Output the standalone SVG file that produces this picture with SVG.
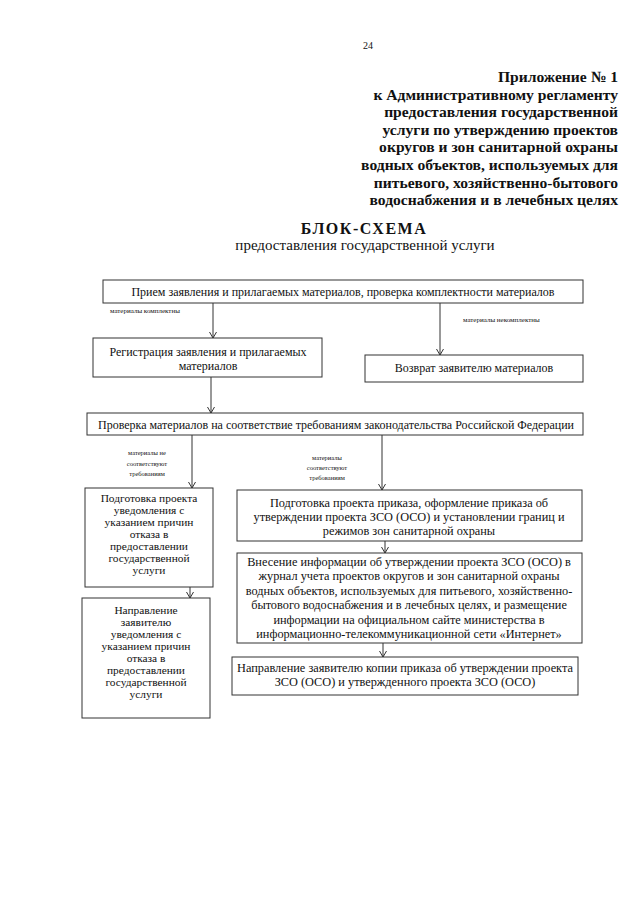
<svg xmlns="http://www.w3.org/2000/svg" width="640" height="905" viewBox="0 0 640 905">
<style>
text{font-family:"Liberation Serif","Times New Roman",serif;fill:#111}
.hdr{font-size:15.6px;font-weight:bold;text-anchor:end}
.box{fill:#fff;stroke:#333;stroke-width:1}
.t13{font-size:12px;text-anchor:middle}
.t12{font-size:12.3px;text-anchor:middle}
.t11{font-size:11.4px;text-anchor:middle}
.lbl{font-size:7px}
.lblc{font-size:6.5px;text-anchor:middle}
.con{stroke:#333;stroke-width:1;fill:none;marker-end:url(#ah)}
</style>
<defs>
<marker id="ah" markerWidth="10" markerHeight="10" refX="8" refY="4" orient="auto" markerUnits="userSpaceOnUse">
<path d="M2,0.5 L8,4 L2,7.5" fill="none" stroke="#333" stroke-width="1"/>
</marker>
</defs>
<rect width="640" height="905" fill="#fff"/>
<g id="header">
<text x="368" y="49" style="font-size:10px;text-anchor:middle">24</text>
<text class="hdr" x="618" y="82">Приложение № 1</text>
<text class="hdr" x="618" y="100">к Административному регламенту</text>
<text class="hdr" x="618" y="117">предоставления государственной</text>
<text class="hdr" x="618" y="135">услуги по утверждению проектов</text>
<text class="hdr" x="618" y="152">округов и зон санитарной охраны</text>
<text class="hdr" x="618" y="170">водных объектов, используемых для</text>
<text class="hdr" x="618" y="188">питьевого, хозяйственно-бытового</text>
<text class="hdr" x="618" y="205">водоснабжения и в лечебных целях</text>
</g>
<g id="title">
<text x="364" y="234" style="font-size:16px;font-weight:bold;text-anchor:middle;letter-spacing:1.5px">БЛОК-СХЕМА</text>
<text x="365" y="250" style="font-size:15px;text-anchor:middle">предоставления государственной услуги</text>
</g>
<g id="connectors">
<line class="con" x1="213" y1="303" x2="213" y2="338"/>
<line class="con" x1="440" y1="303" x2="440" y2="355"/>
<line class="con" x1="211" y1="377" x2="211" y2="413"/>
<line class="con" x1="192" y1="435" x2="192" y2="488"/>
<line class="con" x1="382" y1="435" x2="382" y2="490"/>
<line class="con" x1="190" y1="587" x2="190" y2="598"/>
<line class="con" x1="385" y1="541" x2="385" y2="553"/>
<line class="con" x1="383" y1="643" x2="383" y2="657"/>
<text class="lbl" x="110" y="313">материалы комплектны</text>
<text class="lbl" x="463" y="322">материалы некомплектны</text>
<text class="lblc" x="147" y="455">материалы не</text>
<text class="lblc" x="147" y="466">соответствуют</text>
<text class="lblc" x="147" y="476">требованиям</text>
<text class="lblc" x="327" y="460">материалы</text>
<text class="lblc" x="327" y="470">соответствуют</text>
<text class="lblc" x="327" y="480">требованиям</text>
</g>
<g id="n1">
<rect class="box" x="103" y="280" width="480" height="23"/>
<text class="t13" x="343" y="296">Прием заявления и прилагаемых материалов, проверка комплектности материалов</text>
</g>
<g id="n2">
<rect class="box" x="93" y="338" width="229" height="39"/>
<text class="t13" x="208" y="356">Регистрация заявления и прилагаемых</text>
<text class="t13" x="208" y="370">материалов</text>
</g>
<g id="n3">
<rect class="box" x="365" y="355" width="218" height="27"/>
<text class="t13" x="474" y="372">Возврат заявителю материалов</text>
</g>
<g id="n4">
<rect class="box" x="87" y="413" width="496" height="22"/>
<text class="t13" x="336" y="429">Проверка материалов на соответствие требованиям законодательства Российской Федерации</text>
</g>
<g id="n5">
<rect class="box" x="85" y="488" width="128" height="99"/>
<text class="t11" x="149" y="502">Подготовка проекта</text>
<text class="t11" x="149" y="514">уведомления с</text>
<text class="t11" x="149" y="526">указанием причин</text>
<text class="t11" x="149" y="538">отказа в</text>
<text class="t11" x="149" y="550">предоставлении</text>
<text class="t11" x="149" y="562">государственной</text>
<text class="t11" x="149" y="574">услуги</text>
</g>
<g id="n6">
<rect class="box" x="82" y="598" width="128" height="120"/>
<text class="t11" x="146" y="614">Направление</text>
<text class="t11" x="146" y="626">заявителю</text>
<text class="t11" x="146" y="638">уведомления с</text>
<text class="t11" x="146" y="650">указанием причин</text>
<text class="t11" x="146" y="662">отказа в</text>
<text class="t11" x="146" y="674">предоставлении</text>
<text class="t11" x="146" y="686">государственной</text>
<text class="t11" x="146" y="698">услуги</text>
</g>
<g id="n7">
<rect class="box" x="237" y="490" width="345" height="51"/>
<text class="t12" x="409" y="507">Подготовка проекта приказа, оформление приказа об</text>
<text class="t12" x="409" y="521">утверждении проекта ЗСО (ОСО) и установлении границ и</text>
<text class="t12" x="409" y="535">режимов зон санитарной охраны</text>
</g>
<g id="n8">
<rect class="box" x="237" y="553" width="345" height="90"/>
<text class="t12" x="409" y="566">Внесение информации об утверждении проекта ЗСО (ОСО) в</text>
<text class="t12" x="409" y="580">журнал учета проектов округов и зон санитарной охраны</text>
<text class="t12" x="409" y="595">водных объектов, используемых для питьевого, хозяйственно-</text>
<text class="t12" x="409" y="609">бытового водоснабжения и в лечебных целях, и размещение</text>
<text class="t12" x="409" y="624">информации на официальном сайте министерства в</text>
<text class="t12" x="409" y="638">информационно-телекоммуникационной сети «Интернет»</text>
</g>
<g id="n9">
<rect class="box" x="232" y="657" width="346" height="38"/>
<text class="t12" x="405" y="672">Направление заявителю копии приказа об утверждении проекта</text>
<text class="t12" x="405" y="686">ЗСО (ОСО) и утвержденного проекта ЗСО (ОСО)</text>
</g>
</svg>
